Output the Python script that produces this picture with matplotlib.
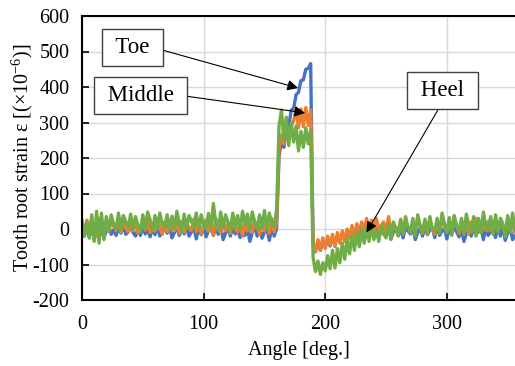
import numpy as np
import matplotlib
matplotlib.use("Agg")
import matplotlib.pyplot as plt

plt.rcParams['font.family'] = ['Liberation Serif', 'DejaVu Serif']
plt.rcParams['mathtext.fontset'] = 'custom'
plt.rcParams['mathtext.rm'] = 'Liberation Serif'
plt.rcParams['axes.unicode_minus'] = False

# Sample angles (deg.), every 2 degrees
angle = np.arange(0, 358, 2)

# Toe (blue)
toe = [
    # 0..160
    5, -20, 10, -25, 15, -30, 0, -28, 12, -25,
    -5, 8, -15, -2, -18, 3, -12, 10, -15, -8,
    8, -10, -20, 2, -18, 6, -14, 0, -22, 4,
    -16, 7, -20, -5, 3, -12, 9, -25, -10, 5,
    -18, 2, -14, 8, -20, -8, 4, -28, 6, -16,
    10, -22, -5, 3, -18, 5, -15, 9, -30, -12,
    4, -20, 7, -14, -2, -24, 6, -18, 3, -35,
    -10, 8, -20, 5, -26, -8, 2, -32, 4, -20,
    0,
    # 162..188
    205, 250, 230, 275, 290, 335, 340, 378, 385, 418, 420, 450, 452, 466,
    # 190..240
    -45, -55, -40, -60, -35, -50, -30, -48, -25, -40,
    -20, -35, -15, -30, -10, -25, -5, -20, 0, -15,
    5, -18, 8, -15, 5, -20,
    # 242..356
    8, -22, -5, 4, -15, 10, -28, -8, 6, -18,
    2, -25, 9, -5, -14, 5, -30, -10, 3, -20,
    8, -16, -2, 4, -24, 10, -18, -6, 2, -28,
    6, -15, 9, -8, -22, 3, -35, -12, 7, -20,
    4, -16, -4, 8, -30, 5, -18, -6, 2, -24,
    9, -20, 6, -32, -10, 3, -30, -18,
]

# Middle (orange)
middle = [
    # 0..160
    20, -10, 25, 5, -15, 15, -20, 30, 0, -12,
    18, -8, 22, 8, -5, 28, -10, 35, 2, -8,
    20, -5, 25, -12, 10, 18, -3, 22, -10, 15,
    -6, 30, 5, -15, 20, -8, 25, 0, -5, 18,
    -12, 22, -10, 15, 5, -4, 28, -8, 20, -14,
    10, 25, -6, 18, -18, 30, 2, -10, 22, -5,
    15, -12, 25, 0, -8, 20, -20, 18, -6, 28,
    -10, 22, 5, -15, 15, -5, 25, -12, 30, -8,
    20,
    # 162..188
    225, 265, 240, 275, 250, 290, 305, 340, 285, 338, 288, 342, 292, 335,
    # 190..240
    -35, -65, -30, -60, -25, -55, -20, -45, -15, -50,
    -10, -40, -5, -35, 0, -25, 10, -20, 15, -10,
    20, -5, 30, -3, 25, -8,
    # 242..356
    30, -5, 10, 20, -12, 35, -8, 15, 0, -15,
    28, -6, 22, 5, -10, 18, -5, 30, 8, -12,
    20, -8, 25, 0, -15, 15, -6, 28, 5, -10,
    22, -5, 35, 10, -12, 18, -8, 25, -15, 20,
    -6, 30, 5, -10, 15, -5, 22, 0, -12, 28,
    -8, 18, 8, -15, 25, -6, 20, -10,
]

# Heel (green)
heel = [
    # 0..20
    25, -20, 20, -25, 40, -35, 50, -40, 45, -30, 35,
    # 22..160
    -5, 40, 15, 0, 45, -2, 38, 20, 5, 42,
    0, 35, 10, -8, 40, 2, 48, 25, -5, 38,
    0, 45, 12, 5, 40, -3, 36, 2, 50, 15,
    -10, 42, 0, 38, 22, 5, 45, -2, 40, 10,
    3, 44, 0, 72, 15, -5, 48, 2, 40, 20,
    -5, 45, 5, 38, 0, 50, 12, 42, -3, 48,
    20, 0, 40, 3, 52, -2, 45, 15, 5, 55,
    # 162..188
    290, 335, 250, 315, 235, 300, 245, 290, 220, 275, 230, 285, 240, 278,
    # 190..240
    -80, -120, -90, -128, -95, -118, -75, -112, -60, -110,
    -55, -95, -40, -85, -30, -70, -15, -60, -10, -50,
    0, -40, 5, -35, 10, -30,
    # 242..356
    -5, -35, 10, -15, -25, 15, -30, 20, 0, -20,
    25, -15, 35, 5, -10, 30, -20, 40, 10, -8,
    28, -15, 35, 0, -5, 30, -12, 45, 15, -10,
    32, -18, 38, 5, -5, 30, -15, 42, 10, -8,
    35, -20, 30, -10, 48, 8, -5, 35, -15, 40,
    -8, 30, 15, -22, 38, -10, 45, -5,
]

series_names = ["Toe", "Middle", "Heel"]
series_colors = ["#4472C4", "#ED7D31", "#70AD47"]
x_ticks = [0, 100, 200, 300]
y_ticks = [-200, -100, 0, 100, 200, 300, 400, 500, 600]

fig = plt.figure(figsize=(5.15, 3.66), dpi=100)
ax = fig.add_axes([82 / 515, 1 - 300 / 366, 1 - 82 / 515, (300 - 16) / 366])

for vals, c in zip([toe, middle, heel], series_colors):
    ax.plot(angle, vals, color=c, lw=2.4)

ax.set_xlim(0, 356)
ax.set_ylim(-200, 600)
ax.set_xticks(x_ticks)
ax.set_yticks(y_ticks)
ax.grid(True, color='#D9D9D9', lw=1.0)
ax.set_axisbelow(True)
for s in ['left', 'bottom', 'top']:
    ax.spines[s].set_linewidth(1.5)
    ax.spines[s].set_color('black')
ax.spines['right'].set_visible(False)
ax.tick_params(direction='in', length=5, width=1.2, labelsize=14.5)
ax.tick_params(axis='x', pad=11)
ax.tick_params(axis='y', pad=9)

ax.set_xlabel('Angle [deg.]', fontsize=14.5, labelpad=5)
ax.set_ylabel('Tooth root strain ε [(×10$^{\\mathregular{-6}}$)]', fontsize=14.5, labelpad=-1.5)

box = dict(boxstyle='square,pad=0.35', fc='white', ec='#404040', lw=1.0)
ann = [
    (" Toe ", (177.7, 397), (41.3, 510), (1, 0.5)),
    (" Middle ", (183.5, 327), (48, 377), (1, 0.5)),
    (" Heel ", (233.9, -10), (296.7, 389), (0.5, 0)),
]
for txt, xy, xyt, rp in ann:
    ax.annotate(txt, xy=xy, xytext=xyt, fontsize=16.5, ha='center', va='center',
                bbox=box,
                arrowprops=dict(arrowstyle='-|>', color='black', lw=0.8,
                                shrinkA=0, shrinkB=0, relpos=rp,
                                mutation_scale=16))

fig.savefig('out.png', dpi=100)
